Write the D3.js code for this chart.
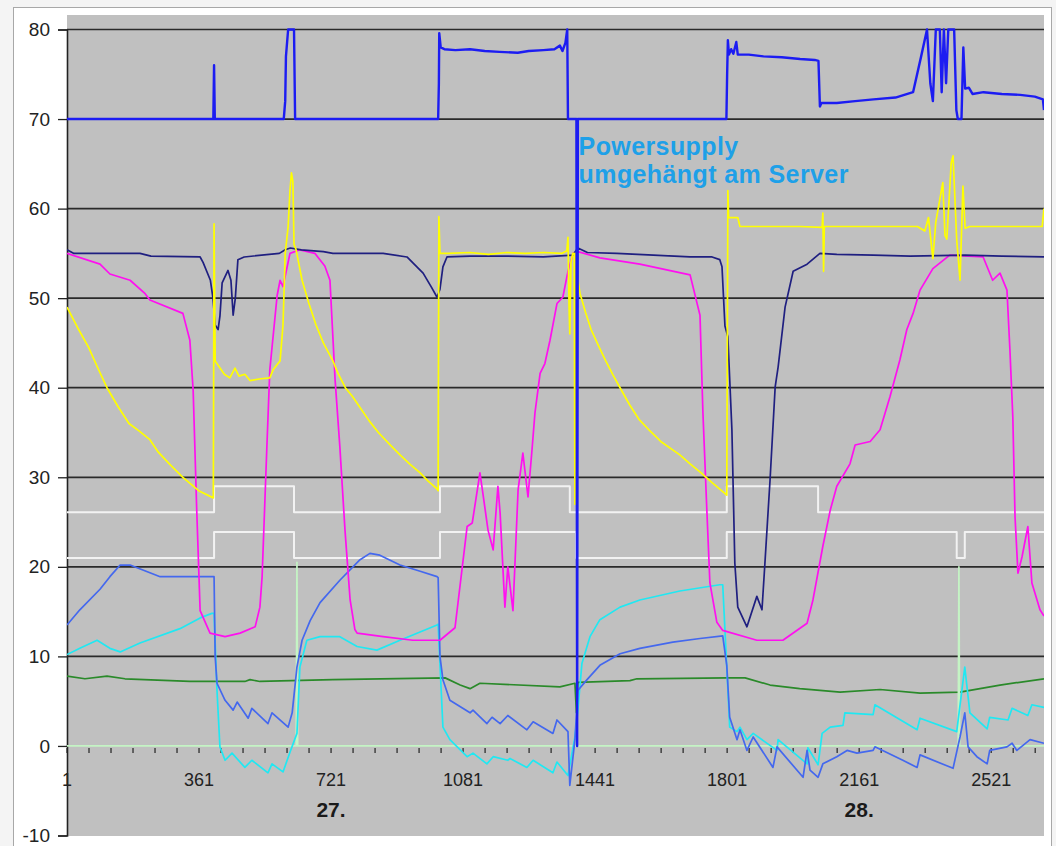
<!DOCTYPE html>
<html>
<head>
<meta charset="utf-8">
<style>
  body { margin: 0; background: #f4f4f4; }
  svg { display: block; font-family: Arial, "Liberation Sans", sans-serif; }
</style>
</head>
<body>
<div id="chart"></div>
<script src="https://d3js.org/d3.v7.min.js"></script>
<script>
// x labels and y ticks
const xTickLabels = [1, 361, 721, 1081, 1441, 1801, 2161, 2521];
const dayLabels = ["27.", "28."];
const dayLabelAt = [721, 2161];
const yTicks = [-10, 0, 10, 20, 30, 40, 50, 60, 70, 80];
const lastIndex = 2665;

// series, [sample index, value]
const topBlue = [[1,70],[400,70],[402,76],[404,70],[592,70],[596,72],[598,77],[604,80],[620,80],[623,70],[1013,70],[1015,74],[1016,79.6],[1020,78],[1030,77.8],[1060,77.7],[1100,77.8],[1140,77.6],[1180,77.5],[1230,77.4],[1260,77.6],[1300,77.7],[1330,77.8],[1345,78.2],[1352,77.6],[1360,78.5],[1365,80],[1367,70],[1390,70],[1392,0],[1394,70],[1799,70],[1801,75],[1803,78.8],[1806,77.2],[1812,77.8],[1818,77.3],[1826,78.6],[1830,77.2],[1860,77.2],[1900,77],[1950,76.9],[2000,76.7],[2040,76.6],[2050,76.5],[2054,71.4],[2058,71.8],[2100,71.8],[2150,72],[2200,72.2],[2260,72.4],[2308,73],[2330,77],[2346,80],[2355,74],[2362,72],[2370,80],[2381,80],[2386,73],[2392,80],[2398,74],[2404,80],[2420,80],[2426,71],[2430,70],[2440,70],[2445,78],[2450,73.4],[2460,73.5],[2470,72.8],[2500,73],[2550,72.8],[2600,72.7],[2640,72.5],[2662,72.2],[2665,71]];

const yellow = [[1,49],[30,46.7],[60,44.5],[85,42.2],[110,40],[140,37.9],[170,36],[200,35.1],[227,34.2],[250,32.8],[280,31.5],[317,30],[360,28.5],[400,27.7],[402,58.3],[405,43],[413,42.5],[430,41.5],[445,41.1],[459,42.2],[470,41.3],[486,41.5],[500,40.8],[530,41],[554,41.1],[563,42],[582,43],[590,47],[596,55],[604,58],[609,62],[613,64],[617,63],[620,56],[625,55.5],[630,54.5],[642,52],[660,49.5],[680,47],[700,45],[726,43],[740,41.6],[760,40],[780,39],[800,37.8],[825,36.3],[850,35],[880,33.7],[909,32.5],[935,31.5],[964,30.5],[985,29.6],[1010,28.7],[1013,28.5],[1015,59.1],[1018,55],[1040,55],[1100,55.1],[1150,54.9],[1200,55.1],[1250,55],[1300,55.1],[1350,55],[1364,55.3],[1367,56.8],[1370,49],[1372,46],[1375,54],[1380,55],[1384,55],[1386,27],[1388,55],[1394,52],[1400,50.5],[1415,48.4],[1430,46.5],[1450,44.7],[1470,43],[1490,41.4],[1509,40],[1535,38.1],[1560,36.5],[1590,35.2],[1620,34],[1672,32.5],[1700,31.5],[1730,30.5],[1760,29.4],[1789,28.4],[1800,28],[1803,62],[1805,59],[1830,59],[1836,58],[1900,58],[2000,58],[2060,57.9],[2062,59.5],[2064,53],[2066,58],[2150,58],[2250,58],[2320,58],[2340,57.5],[2350,59],[2362,54.4],[2370,58.5],[2389,62.9],[2395,57],[2400,56.6],[2412,65.1],[2417,65.9],[2427,56.5],[2436,52],[2444,62.5],[2450,57.8],[2463,58],[2550,58],[2660,58],[2665,60]];

const navy = [[1,55.4],[20,55],[200,55],[230,54.7],[364,54.6],[372,54],[392,52],[399,50],[405,47],[413,46.5],[418,48],[424,51.7],[440,53.1],[448,52],[454,48.1],[460,50],[467,54.3],[484,54.6],[580,55],[596,55.4],[610,55.6],[640,55.4],[700,55.2],[726,55],[800,55],[863,55],[928,54.6],[972,52.8],[995,51.2],[1010,50.1],[1018,51],[1026,53.5],[1037,54.6],[1100,54.7],[1200,54.7],[1300,54.6],[1380,54.8],[1394,55.6],[1420,55.1],[1500,55],[1600,54.8],[1700,54.6],[1760,54.6],[1781,54.3],[1787,53.5],[1795,46.9],[1803,45.7],[1814,35.3],[1822,20.4],[1830,15.5],[1855,13.3],[1882,16.7],[1896,15.2],[1904,20.4],[1918,29.7],[1932,40.1],[1940,42.3],[1959,49],[1981,53],[2019,53.8],[2054,55],[2100,54.9],[2200,54.8],[2300,54.7],[2450,54.8],[2550,54.7],[2665,54.6]];

const magenta = [[1,55],[91,53.8],[118,52.7],[173,52],[214,50.5],[227,49.8],[317,48.3],[336,45.3],[345,39.7],[355,26],[364,15.1],[391,12.6],[432,12.2],[473,12.6],[514,13.3],[527,15.5],[533,18.9],[546,33.4],[554,42],[574,50.3],[582,52],[590,51.3],[609,55],[636,55.4],[677,55],[704,53.6],[718,52],[732,40.9],[745,33.4],[759,24.1],[773,16.3],[786,13],[792,12.6],[863,12.2],[944,11.8],[1018,11.8],[1059,13.2],[1092,24.5],[1106,24.9],[1127,30.5],[1135,28.2],[1149,24.1],[1163,21.9],[1176,29],[1182,26],[1195,15.5],[1203,20],[1217,15.1],[1231,28.6],[1244,32.7],[1258,27.8],[1269,33.1],[1277,37.2],[1291,41.6],[1304,42.7],[1318,45.3],[1337,49.4],[1353,50.1],[1367,53],[1381,55],[1394,55.2],[1454,54.5],[1563,53.8],[1700,52.6],[1727,48.1],[1735,37.2],[1746,26],[1754,18.2],[1773,13.8],[1789,12.9],[1882,11.8],[1953,11.8],[2019,13.7],[2035,16.3],[2062,22.3],[2082,26.3],[2100,29],[2136,31.5],[2150,33.6],[2191,34],[2218,35.3],[2245,39],[2272,43.1],[2291,46.5],[2308,48.3],[2327,50.9],[2362,53.3],[2408,54.8],[2499,54.6],[2525,52],[2545,52.8],[2564,50.9],[2572,44.3],[2580,36.7],[2586,25.6],[2594,19.3],[2605,21.1],[2621,24.5],[2632,18.2],[2654,15.2],[2665,14.5]];

const whiteUpper = [[1,26.1],[402,29],[620,26.1],[1018,29],[1372,26.1],[1800,29],[2049,26.1],[2665,26.1]];
const whiteLower = [[1,21],[402,23.9],[620,21],[1018,23.9],[1389,21],[1800,23.9],[2427,21],[2449,23.9],[2665,23.9]];

const royalBlue = [[1,13.5],[36,15.2],[91,17.5],[118,18.9],[146,20.2],[173,20.2],[255,18.9],[300,18.9],[402,18.9],[405,10],[410,7],[432,5.1],[454,4],[465,4.9],[495,3.1],[505,4.2],[549,2.5],[560,3.7],[604,2.1],[615,3.7],[628,8.8],[642,11.8],[664,14],[691,16],[745,18.5],[800,20.8],[827,21.5],[854,21.3],[909,20.2],[964,19.5],[1010,18.9],[1013,18.8],[1018,10],[1026,7.4],[1045,5.1],[1100,3.7],[1108,4],[1146,2.5],[1160,3.2],[1182,2.5],[1203,3.4],[1255,1.8],[1272,2.7],[1326,1.4],[1337,2.9],[1367,1.6],[1372,-4.4],[1386,0.7],[1394,6.2],[1419,7.4],[1454,9],[1509,10.3],[1563,10.9],[1653,11.6],[1727,12],[1789,12.3],[1800,9],[1808,3.2],[1828,0.7],[1836,1.8],[1855,-0.5],[1872,1],[1926,-2.4],[1937,-0.1],[2008,-3.5],[2019,-0.5],[2027,-2.7],[2049,-3.5],[2062,-2],[2100,-1.2],[2128,-0.5],[2155,-0.8],[2199,-0.5],[2204,-0.1],[2280,-1.6],[2319,-2.4],[2327,-1],[2417,-2.5],[2436,1],[2449,3.7],[2458,-0.1],[2482,-1.2],[2510,-2],[2517,-0.5],[2564,-0.1],[2578,0.3],[2591,-0.5],[2627,0.7],[2665,0.3]];

const cyan = [[1,10.2],[36,10.9],[83,11.8],[118,10.9],[146,10.5],[200,11.5],[309,13.1],[364,14.3],[396,14.8],[402,14.8],[410,6.2],[418,-0.1],[432,-1.6],[451,-0.8],[486,-2.4],[505,-1.6],[549,-3],[560,-2],[590,-2.9],[609,-0.7],[628,1.4],[636,8.8],[655,11.8],[691,12.2],[745,12.2],[792,11.1],[846,10.7],[909,11.8],[1010,13.5],[1013,13.6],[1026,2.1],[1045,0.7],[1092,-1.2],[1108,-0.8],[1146,-2],[1163,-1.2],[1203,-1.6],[1209,-1.4],[1255,-2.4],[1272,-1.6],[1326,-3],[1337,-1.8],[1367,-3.3],[1386,1],[1394,4],[1405,9.2],[1427,12.2],[1454,14.1],[1509,15.5],[1563,16.3],[1672,17.3],[1781,18],[1789,18],[1800,8.8],[1808,2.1],[1828,1.6],[1836,2.1],[1855,0.7],[1872,1.4],[1937,-0.5],[1940,0.7],[2019,-2],[2021,-0.2],[2049,-2.1],[2060,1.4],[2082,2.1],[2117,2.3],[2122,3.7],[2199,3.5],[2204,4.6],[2319,1.8],[2327,3.1],[2427,1.6],[2449,8.8],[2463,3.7],[2510,1.9],[2517,3.2],[2567,2.9],[2578,4.2],[2621,3.4],[2632,4.6],[2665,4.3]];

const green = [[1,7.8],[50,7.5],[110,7.8],[159,7.5],[336,7.2],[486,7.2],[500,7.4],[527,7.2],[726,7.4],[1032,7.6],[1073,6.8],[1100,6.4],[1127,7],[1345,6.6],[1386,7],[1390,3.7],[1394,7.1],[1536,7.3],[1555,7.5],[1800,7.6],[1850,7.6],[1918,6.8],[1999,6.4],[2109,6.0],[2218,6.3],[2327,5.9],[2436,6.0],[2545,6.8],[2665,7.5]];

const paleGreen = [[1,0],[626,0],[628,20.5],[630,0],[2431,0],[2433,20],[2435,0],[2665,0]];

const noteLines = ["Powersupply", "umgehängt am Server"];
const noteAt = [1396, 66];

const width = 1056, height = 846;
const plotLeft = 67, plotRight = 1044, plotTop = 15, plotBottom = 836;

const svg = d3.select("#chart").append("svg")
  .attr("width", width)
  .attr("height", height);

// frame
svg.append("rect").attr("x", 13.5).attr("y", 7.5).attr("width", 1038).attr("height", 850)
  .attr("fill", "#fff").attr("stroke", "#a8a8a8");

svg.append("rect").attr("x", plotLeft).attr("y", plotTop)
  .attr("width", plotRight - plotLeft).attr("height", plotBottom - plotTop)
  .attr("fill", "#c0c0c0");

const x = d3.scaleLinear().domain([1, lastIndex]).range([plotLeft, plotRight]);
const y = d3.scaleLinear().domain([-10, 80]).range([835.5, 29.5]);

// grid
svg.append("g").selectAll("line")
  .data(yTicks.filter(d => d > 0))
  .join("line")
  .attr("x1", plotLeft).attr("x2", plotRight)
  .attr("y1", d => y(d)).attr("y2", d => y(d))
  .attr("stroke", "#2a2a2a").attr("stroke-width", 1.7);

// y axis
const yAxis = svg.append("g").attr("transform", `translate(${plotLeft},0)`)
  .call(d3.axisLeft(y).tickValues(yTicks).tickSize(9).tickPadding(8)
    .tickFormat(d => String(d)));
yAxis.select(".domain").attr("stroke", "#222").attr("stroke-width", 1.6);
yAxis.selectAll(".tick line").attr("stroke", "#222").attr("stroke-width", 1.3);
yAxis.selectAll("text").attr("font-size", 19).attr("fill", "#222")
  .attr("font-family", "Arial, 'Liberation Sans', sans-serif");

// x ticks along zero line
const minorTicks = d3.range(1, lastIndex, 60);
svg.append("g").selectAll("line")
  .data(minorTicks)
  .join("line")
  .attr("x1", d => x(d)).attr("x2", d => x(d))
  .attr("y1", y(0) + 2).attr("y2", y(0) + 7)
  .attr("stroke", "#222").attr("stroke-width", 1.2);

svg.append("g").selectAll("text")
  .data(xTickLabels)
  .join("text")
  .attr("x", d => x(d)).attr("y", 786)
  .attr("text-anchor", "middle")
  .attr("font-size", 18).attr("fill", "#222")
  .text(d => d);

svg.append("g").selectAll("text")
  .data(dayLabels)
  .join("text")
  .attr("x", (d, i) => x(dayLabelAt[i])).attr("y", 817)
  .attr("text-anchor", "middle")
  .attr("font-size", 21).attr("font-weight", "bold").attr("fill", "#1a1a1a")
  .text(d => d);

// series
svg.append("clipPath").attr("id", "plot").append("rect")
  .attr("x", plotLeft).attr("y", plotTop).attr("width", plotRight - plotLeft).attr("height", plotBottom - plotTop);

const line = d3.line().x(d => x(d[0])).y(d => y(d[1]));
const stepLine = d3.line().x(d => x(d[0])).y(d => y(d[1])).curve(d3.curveStepAfter);

const series = [
  { data: whiteUpper, color: "#f2f2f2", w: 2, gen: stepLine },
  { data: whiteLower, color: "#f2f2f2", w: 2, gen: stepLine },
  { data: green, color: "#2a8a2a", w: 1.7, gen: line },
  { data: paleGreen, color: "#c4f4c4", w: 1.7, gen: line },
  { data: cyan, color: "#20e8f2", w: 1.7, gen: line },
  { data: royalBlue, color: "#4468ee", w: 1.7, gen: line },
  { data: magenta, color: "#ff10f0", w: 1.7, gen: line },
  { data: navy, color: "#1f1f80", w: 1.7, gen: line },
  { data: yellow, color: "#ffff00", w: 1.7, gen: line },
  { data: topBlue, color: "#1c1cf2", w: 2.4, gen: line }
];

svg.append("g").attr("clip-path", "url(#plot)")
  .selectAll("path")
  .data(series)
  .join("path")
  .attr("fill", "none")
  .attr("stroke", d => d.color)
  .attr("stroke-width", d => d.w)
  .attr("stroke-linejoin", "round")
  .attr("d", d => d.gen(d.data));

// note, one text per line
svg.append("g").selectAll("text")
  .data(noteLines)
  .join("text")
  .attr("x", x(noteAt[0]))
  .attr("y", (d, i) => y(noteAt[1]) + i * 28)
  .attr("font-size", 25).attr("font-weight", "bold")
  .attr("letter-spacing", 0.4).attr("fill", "#1ea0e8")
  .text(d => d);
</script>
</body>
</html>
